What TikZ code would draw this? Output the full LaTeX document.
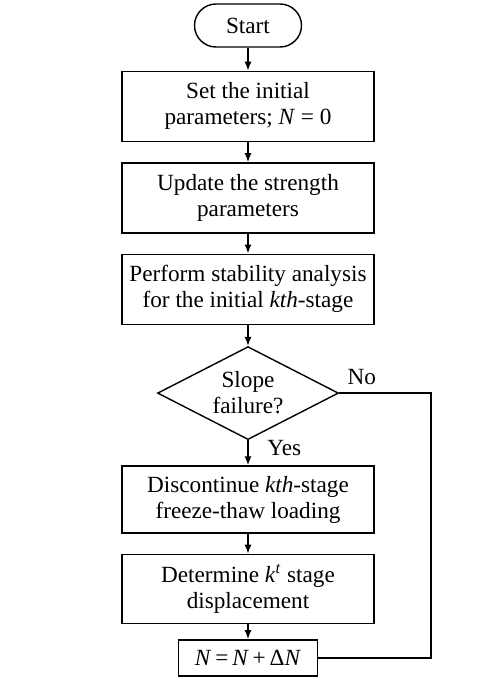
\documentclass[tikz,border=0pt]{standalone}
\usepackage{fontspec}
\setmainfont{Liberation Serif}
\usetikzlibrary{arrows.meta,positioning,chains,shapes.geometric}
\tikzset{%
  base/.style={draw, line width=0.7pt, align=center, font=\fontsize{11.6pt}{13pt}\selectfont},
  etape/.style={minimum width=126pt, minimum height=35pt, inner sep=2pt},
  terminal/.style={minimum width=53.5pt, minimum height=21.5pt, inner sep=2pt, rounded corners=10.75pt},
  decision/.style={diamond, aspect=2, minimum width=90.5pt, minimum height=46.5pt, inner sep=1pt},
  compteur/.style={minimum width=69.5pt, minimum height=18pt, inner sep=2pt},
  line/.style={draw, line width=0.7pt, -{Latex[length=4.5pt,width=3.5pt]}},
  retour/.style={draw, line width=0.7pt},
  etiquette/.style={inner sep=0pt, font=\fontsize{11.6pt}{13pt}\selectfont},
}

\begin{document}
\begin{tikzpicture}
  [
    start chain=fc going below,
    every on chain/.append style={base},
    every join/.append style={line},
    node distance=10pt,
  ]
  \useasboundingbox (0,0) rectangle (248pt,-342.5pt);
  {
    \node [on chain, terminal] at (124pt,-12.75pt) {Start};
    \node [node distance=11.5pt, on chain, join, etape] {Set the initial\\parameters; \textit{N} = 0};
    \node [on chain, join, etape] {Update the strength\\parameters};
    \node [on chain, join, etape] {Perform stability analysis\\for the initial \textit{kth}-stage};
    \node [node distance=10.5pt, on chain, join, decision] {Slope\\failure?};
    \node [node distance=12.5pt, on chain, join, etape, minimum height=33.5pt] {Discontinue \textit{kth}-stage\\freeze-thaw loading};
    \node [on chain, join, etape, minimum height=34.5pt] {Determine \textit{k}\textsuperscript{\textit{t}} stage\\displacement};
    \node [node distance=7.5pt, on chain, join, compteur] {\textit{N}\,=\,\textit{N}\,+\,Δ\textit{N}};
  }

  \node [etiquette, above right=4pt and 4pt of fc-5.east] {No};
  \node [etiquette, below right=0pt and 9.5pt of fc-5.south] {Yes};

  \coordinate (rt) at (215.5pt,0);
  \path [retour] (fc-5.east) -- (fc-5.east -| rt) |- (fc-8.east);
\end{tikzpicture}
\end{document}
